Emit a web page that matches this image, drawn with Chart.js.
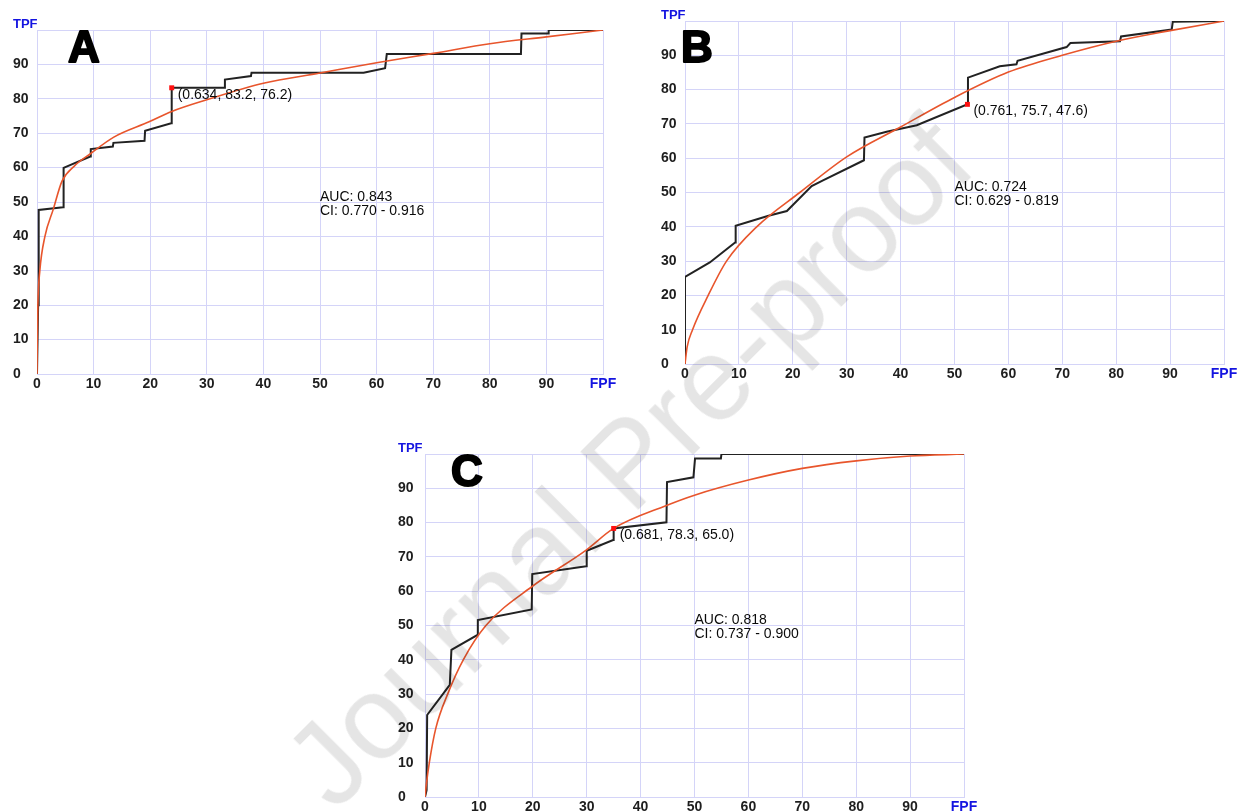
<!DOCTYPE html>
<html>
<head>
<meta charset="utf-8">
<script src="https://cdn.jsdelivr.net/npm/chart.js@4.4.1/dist/chart.umd.min.js"></script>
<style>
  html, body { margin: 0; padding: 0; background: #fff; }
  body { width: 1244px; height: 812px; position: relative; overflow: hidden; }
  canvas { position: absolute; }
  #wm {
    position: absolute; left: 628px; top: 462px;
    transform: translate(-50%, -50%) rotate(-45deg);
    font-family: "Liberation Sans", Arial, sans-serif; font-size: 118px;
    color: rgba(0, 0, 0, 0.1); white-space: nowrap; pointer-events: none;
  }
</style>
</head>
<body>
<canvas id="chartA" width="623" height="395" style="left:0px;top:0px"></canvas>
<canvas id="chartB" width="604" height="385" style="left:640px;top:0px"></canvas>
<canvas id="chartC" width="604" height="388" style="left:380px;top:430px"></canvas>
<div id="wm">Journal Pre-proof</div>
<script>
// axis end labels
const xEndLabel = 'FPF'
const yEndLabel = 'TPF'

// panel A - empirical ROC (step) and fitted curve
const aStepFpf = [0, 0.2, 0.3, 4.6, 4.7, 9.4, 9.5, 13.4, 13.5, 19.0, 19.1, 23.7, 23.8, 33.1, 33.2, 37.8, 37.9, 57.7, 61.5, 61.8, 85.5, 85.6, 90.3, 90.4, 100]
const aStepTpf = [0, 20, 47.7, 48.5, 59.9, 63.2, 65.4, 66.1, 67.2, 67.8, 70.7, 72.9, 83.2, 83.2, 85.6, 86.6, 87.6, 87.6, 88.9, 93.0, 93.0, 99.0, 99.0, 100, 100]
const aFitFpf = [0, 0.05, 0.15, 0.5, 1.4, 2.9, 4.4, 6.5, 9.5, 13.5, 19.8, 23.8, 30, 40, 50, 60, 70, 80, 90, 100]
const aFitTpf = [0, 10, 20, 30, 40, 48, 56, 60.3, 64.1, 68.8, 73.3, 76.3, 79.7, 84.5, 87.5, 90.5, 93.2, 96.0, 98.0, 100]
const aCut = [23.8, 83.2]
const aCutText = '(0.634, 83.2, 76.2)'
const aAucText = 'AUC: 0.843'
const aCiText = 'CI: 0.770 - 0.916'

// panel B
const bStepFpf = [0, 0, 4.6, 9.3, 9.4, 15.5, 18.9, 23.5, 25.7, 33.2, 33.3, 37.4, 43.0, 52.4, 52.5, 58.4, 61.5, 61.7, 70.8, 71.5, 80.7, 80.9, 90.3, 90.5, 100]
const bStepTpf = [0, 25.4, 29.6, 35.4, 40.3, 43.2, 44.6, 51.9, 53.6, 59.4, 66.0, 67.7, 69.6, 75.7, 83.5, 86.8, 87.4, 88.4, 92.4, 93.6, 94.1, 95.5, 97.5, 99.8, 100]
const bFitFpf = [0, 0.4, 1.4, 4.3, 7.7, 13.3, 21.3, 30, 40, 50, 60, 70, 80, 90, 100]
const bFitTpf = [0, 5, 10, 20, 30, 40, 50, 60.4, 69.1, 77.7, 85.1, 90.0, 94.1, 97.2, 100]
const bCut = [52.4, 75.7]
const bCutText = '(0.761, 75.7, 47.6)'
const bAucText = 'AUC: 0.724'
const bCiText = 'CI: 0.629 - 0.819'

// panel C
const cStepFpf = [0, 0.3, 0.4, 4.6, 4.9, 9.7, 9.8, 19.8, 19.9, 29.9, 30.0, 34.9, 35.0, 44.8, 44.9, 49.8, 50.1, 54.9, 55.0, 100]
const cStepTpf = [0, 2, 23.9, 32.7, 42.9, 47.2, 51.6, 54.7, 65.0, 67.3, 71.8, 74.9, 78.3, 80.1, 91.8, 93.2, 98.7, 98.7, 100, 100]
const cFitFpf = [0, 0.2, 0.8, 2.0, 4.2, 7.1, 11.3, 19.8, 29.9, 35, 44.8, 50, 60, 70, 80, 90, 100]
const cFitTpf = [0, 3, 10, 20, 30, 40, 50, 61.3, 72.0, 78.3, 85.0, 88.0, 92.4, 95.8, 98.0, 99.4, 100]
const cCut = [35.0, 78.3]
const cCutText = '(0.681, 78.3, 65.0)'
const cAucText = 'AUC: 0.818'
const cCiText = 'CI: 0.737 - 0.900'

const gridColor = 'rgb(212, 212, 248)'
const blue = '#1414e0'
const tickFont = { family: '"Liberation Sans", Arial, sans-serif', size: 14, weight: 'bold' }
const txtFont = '14px "Liberation Sans", Arial, sans-serif'

function pts(xs, ys) {
    return xs.map((v, i) => ({ x: v, y: ys[i] }))
}

function decor(p) {
    return {
        id: 'decor',
        afterDatasetsDraw(chart) {
            const { ctx, chartArea, scales: { x, y } } = chart
            ctx.save()
            // big panel letter (stroked a bit to look heavier)
            const lx = chartArea.left + p.letterAt[0]
            const ly = chartArea.top + p.letterAt[1]
            ctx.fillStyle = '#000'
            ctx.strokeStyle = '#000'
            ctx.lineWidth = 2
            ctx.lineJoin = 'round'
            ctx.font = 'bold 44px "Liberation Sans", Arial, sans-serif'
            ctx.textAlign = 'left'
            ctx.textBaseline = 'alphabetic'
            ctx.strokeText(p.letter, lx + 1, ly)
            ctx.fillText(p.letter, lx + 1, ly)
            // TPF label above y axis
            ctx.fillStyle = blue
            ctx.font = 'bold 13px "Liberation Sans", Arial, sans-serif'
            ctx.textBaseline = 'middle'
            ctx.fillText(yEndLabel, y.left, chartArea.top - 6)
            // cut point label
            ctx.fillStyle = '#0a0a0a'
            ctx.font = txtFont
            const cx = x.getPixelForValue(p.cut[0])
            const cy = y.getPixelForValue(p.cut[1])
            ctx.fillText(p.cutText, cx + 6, cy + 7)
            // AUC / CI
            const ax = x.getPixelForValue(50)
            const ay = y.getPixelForValue(51.5)
            ctx.fillText(p.auc, ax, ay)
            ctx.fillText(p.ci, ax, ay + 14)
            ctx.restore()
        }
    }
}

function makeChart(p) {
    return new Chart(document.getElementById(p.id), {
        type: 'scatter',
        data: {
            datasets: [{
                data: [{ x: p.cut[0], y: p.cut[1] }],
                pointStyle: 'rect',
                pointRadius: 3.5,
                backgroundColor: '#ff1010',
                borderWidth: 0,
                order: 0
            }, {
                data: pts(p.fitX, p.fitY),
                showLine: true,
                borderColor: '#e8552c',
                borderWidth: 1.6,
                pointRadius: 0,
                cubicInterpolationMode: 'monotone',
                order: 1
            }, {
                data: pts(p.stepX, p.stepY),
                showLine: true,
                borderColor: '#222',
                borderWidth: 2,
                pointRadius: 0,
                tension: 0,
                order: 2
            }]
        },
        options: {
            responsive: false,
            animation: false,
            devicePixelRatio: 1,
            layout: { padding: p.pad },
            plugins: { legend: { display: false }, tooltip: { enabled: false } },
            scales: {
                x: {
                    type: 'linear', min: 0, max: 100,
                    grid: { color: gridColor, drawTicks: false },
                    border: { color: gridColor },
                    afterFit: s => { s.height = p.xH },
                    ticks: {
                        stepSize: 10, autoSkip: false, maxRotation: 0, padding: 2,
                        font: tickFont,
                        color: c => c.tick && c.tick.value === 100 ? blue : '#1e1e1e',
                        callback: v => v === 100 ? xEndLabel : v
                    }
                },
                y: {
                    type: 'linear', min: 0, max: 100,
                    grid: { color: gridColor, drawTicks: false },
                    border: { color: gridColor },
                    afterFit: s => { s.width = p.yW },
                    ticks: {
                        stepSize: 10, crossAlign: 'far', padding: 0,
                        font: tickFont, color: '#1e1e1e',
                        callback: v => v === 100 ? '' : v
                    }
                }
            }
        },
        plugins: [decor(p)]
    })
}

const panels = [
    { id: 'chartA', letter: 'A', letterAt: [30, 32], pad: { left: 13, top: 30, right: 20, bottom: 0 }, yW: 24, xH: 21,
      stepX: aStepFpf, stepY: aStepTpf, fitX: aFitFpf, fitY: aFitTpf, cut: aCut, cutText: aCutText, auc: aAucText, ci: aCiText },
    { id: 'chartB', letter: 'B', letterAt: [-5, 41], pad: { left: 21, top: 21, right: 20, bottom: 0 }, yW: 24, xH: 21,
      stepX: bStepFpf, stepY: bStepTpf, fitX: bFitFpf, fitY: bFitTpf, cut: bCut, cutText: bCutText, auc: bAucText, ci: bCiText },
    { id: 'chartC', letter: 'C', letterAt: [25, 32], pad: { left: 18, top: 24, right: 20, bottom: 0 }, yW: 27, xH: 21,
      stepX: cStepFpf, stepY: cStepTpf, fitX: cFitFpf, fitY: cFitTpf, cut: cCut, cutText: cCutText, auc: cAucText, ci: cCiText }
]

panels.forEach(makeChart)
</script>
</body>
</html>
